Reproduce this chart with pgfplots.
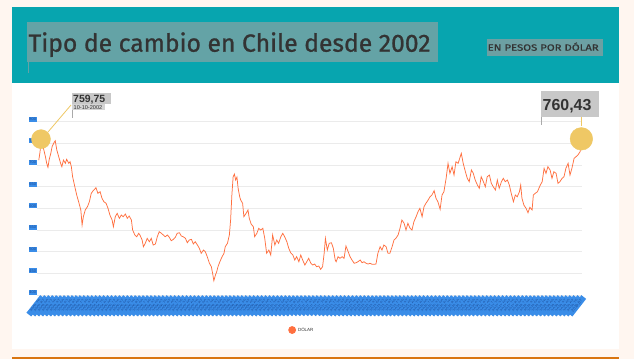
\documentclass[border=0pt]{standalone}
\usepackage{pgfplots}
\pgfplotsset{compat=1.18}
\usepackage{pgfplotstable}
\usepackage{fontspec}
\setmainfont{Liberation Sans}
\newfontfamily\titlefont[FakeBold=0.9]{Fira Sans}
\definecolor{creambg}{RGB}{255,246,240}
\definecolor{tealhead}{RGB}{7,165,175}
\definecolor{titlebox}{RGB}{100,163,166}
\definecolor{subbox}{RGB}{108,160,163}
\definecolor{titletext}{RGB}{51,51,51}
\definecolor{bottombar}{RGB}{217,117,17}
\definecolor{lineorange}{RGB}{255,112,64}
\definecolor{circyellow}{RGB}{239,200,101}
\definecolor{gridgray}{RGB}{235,235,235}
\definecolor{tickblue}{RGB}{58,141,232}
\definecolor{ticktext}{RGB}{28,78,154}
\definecolor{annobox}{RGB}{200,200,200}
\definecolor{datebox}{RGB}{212,212,212}
\definecolor{annogray}{RGB}{170,170,170}

\pgfplotstableread{
t v
2002.70 711.5
2002.74 730.7
2002.77 759.75
2002.86 734.6
2002.91 719.2
2002.95 703.9
2002.99 694.7
2003.03 713.2
2003.08 727.0
2003.12 742.2
2003.18 751.5
2003.22 756.1
2003.27 734.6
2003.33 719.2
2003.39 703.9
2003.43 696.1
2003.48 711.5
2003.54 703.9
2003.58 713.2
2003.65 703.9
2003.69 707.6
2003.73 696.1
2003.77 673.0
2003.84 649.9
2003.90 630.8
2003.96 615.3
2004.03 596.2
2004.07 561.5
2004.11 580.7
2004.17 596.2
2004.24 603.8
2004.30 615.3
2004.36 634.7
2004.42 640.7
2004.51 647.6
2004.57 634.7
2004.64 638.4
2004.70 623.2
2004.76 615.3
2004.83 611.6
2004.89 600.1
2004.95 584.6
2005.02 573.1
2005.06 557.6
2005.12 580.7
2005.18 588.5
2005.25 577.0
2005.31 584.6
2005.37 580.7
2005.44 586.9
2005.50 577.0
2005.56 582.3
2005.63 573.1
2005.67 550.0
2005.74 538.5
2005.80 534.5
2005.86 542.4
2005.90 538.5
2005.97 526.9
2006.01 511.5
2006.07 519.3
2006.13 530.8
2006.20 523.0
2006.26 530.8
2006.32 515.4
2006.39 517.7
2006.45 534.5
2006.51 546.1
2006.58 542.4
2006.64 538.5
2006.70 534.5
2006.77 538.5
2006.83 533.2
2006.89 525.3
2006.96 528.5
2007.02 533.2
2007.08 542.4
2007.15 543.8
2007.21 536.2
2007.27 534.5
2007.34 530.8
2007.40 520.7
2007.46 526.9
2007.53 528.5
2007.59 517.7
2007.65 523.0
2007.72 515.4
2007.78 507.8
2007.84 496.2
2007.91 503.8
2007.97 499.9
2008.03 488.4
2008.10 473.2
2008.16 465.3
2008.20 450.1
2008.24 433.0
2008.29 446.2
2008.33 453.8
2008.37 465.3
2008.43 476.8
2008.50 488.4
2008.56 496.2
2008.60 511.5
2008.67 519.3
2008.73 538.5
2008.77 573.1
2008.81 630.8
2008.85 673.0
2008.89 679.2
2008.93 665.4
2008.97 672.0
2009.01 645.0
2009.06 626.0
2009.09 619.2
2009.15 611.6
2009.19 580.7
2009.26 588.5
2009.32 596.2
2009.36 577.0
2009.42 563.8
2009.49 557.6
2009.53 534.5
2009.60 542.4
2009.66 553.9
2009.72 550.0
2009.79 553.9
2009.85 530.8
2009.91 496.2
2009.98 503.8
2010.04 492.3
2010.10 538.5
2010.17 515.4
2010.23 526.9
2010.29 519.3
2010.36 534.5
2010.42 542.4
2010.48 534.5
2010.55 523.0
2010.61 507.8
2010.67 497.6
2010.74 492.3
2010.80 480.8
2010.86 488.4
2010.93 476.8
2010.99 492.3
2011.05 480.8
2011.12 469.2
2011.18 476.8
2011.24 484.7
2011.31 473.2
2011.37 469.2
2011.43 471.5
2011.49 465.3
2011.56 466.9
2011.62 459.3
2011.68 465.3
2011.73 496.2
2011.77 530.8
2011.83 503.8
2011.89 519.3
2011.96 520.7
2012.02 507.8
2012.08 480.8
2012.11 476.8
2012.17 488.4
2012.23 484.7
2012.30 488.4
2012.36 484.7
2012.42 513.1
2012.49 499.9
2012.55 488.4
2012.61 480.8
2012.68 473.2
2012.74 474.5
2012.80 476.8
2012.87 480.8
2012.93 474.5
2012.99 476.8
2013.06 473.2
2013.12 471.5
2013.18 473.2
2013.25 470.8
2013.31 470.8
2013.37 471.5
2013.43 496.2
2013.50 511.5
2013.56 503.8
2013.62 515.4
2013.69 511.5
2013.75 496.2
2013.81 496.2
2013.88 511.5
2013.94 526.9
2014.00 530.8
2014.07 538.5
2014.13 553.9
2014.19 573.1
2014.26 565.5
2014.32 550.0
2014.38 565.5
2014.45 553.9
2014.51 550.0
2014.57 569.2
2014.64 580.7
2014.70 592.2
2014.76 600.1
2014.83 580.7
2014.89 603.8
2014.95 611.6
2015.02 619.2
2015.08 626.8
2015.14 630.8
2015.21 640.7
2015.27 623.2
2015.33 615.3
2015.40 597.8
2015.46 630.8
2015.52 638.4
2015.59 669.3
2015.65 703.9
2015.71 680.8
2015.78 696.1
2015.84 676.9
2015.90 707.6
2015.97 703.9
2016.03 717.8
2016.07 727.0
2016.13 703.9
2016.20 684.5
2016.26 669.3
2016.32 661.5
2016.39 688.5
2016.45 680.8
2016.51 665.4
2016.58 653.8
2016.64 646.2
2016.70 673.0
2016.77 661.5
2016.83 649.9
2016.89 673.0
2016.96 676.9
2017.02 657.8
2017.08 649.9
2017.15 642.3
2017.21 665.4
2017.27 646.2
2017.34 661.5
2017.40 669.3
2017.46 661.5
2017.53 665.4
2017.59 653.8
2017.65 634.7
2017.72 615.3
2017.78 630.8
2017.84 626.8
2017.91 638.4
2017.95 653.8
2017.99 623.2
2018.05 607.7
2018.12 600.1
2018.18 589.9
2018.24 602.4
2018.31 596.2
2018.35 630.8
2018.41 634.7
2018.48 638.4
2018.57 653.8
2018.63 661.5
2018.69 692.4
2018.75 680.8
2018.81 696.1
2018.88 688.5
2018.94 669.3
2019.00 684.5
2019.07 680.8
2019.13 657.8
2019.19 661.5
2019.26 669.3
2019.32 673.0
2019.38 692.4
2019.45 703.9
2019.51 676.9
2019.57 692.4
2019.64 715.5
2019.70 719.2
2019.76 723.1
2019.83 730.7
2019.87 760.43
}\dolar

\begin{document}
\begin{tikzpicture}
% ---------- background, header ----------
\begin{scope}[shift={(-37bp,295bp)}, x=1bp, y=-1bp]
 \fill[creambg] (0,0) rectangle (634,359);
 \fill[white] (12,83) rectangle (619,349);
 \fill[tealhead] (12,7) rectangle (619,83);
 \fill[bottombar] (12,356.5) rectangle (619,359);
 \fill[titlebox] (27.5,21.7) rectangle (438,61.7);
 \draw[titlebox, line width=1bp] (28.3,61.7) -- (28.3,72.7);
 \node[anchor=base west, inner sep=0, text=titletext] at (28.3,51.7)
   {\resizebox{402bp}{19.4bp}{\titlefont Tipo de cambio en Chile desde 2002}};
 \fill[subbox] (486.5,39.3) rectangle (602.5,55.7);
 \node[anchor=base west, inner sep=0, text=titletext] at (487.5,50.7)
   {\resizebox{111bp}{8.2bp}{\titlefont EN PESOS POR DÓLAR}};
\end{scope}
% ---------- chart ----------
\begin{axis}[
  at={(0,0)}, anchor=south west,
  scale only axis, width=545bp, height=173.3bp,
  xmin=2002.643, xmax=2019.89, ymin=400, ymax=800,
  ytick={400,450,...,800},
  ymajorgrids, grid style={color=gridgray, line width=0.8bp},
  axis line style={draw=none}, major tick length=0pt,
  xtick distance=0.125,
  /pgf/number format/assume math mode=true,
  yticklabel style={font=\fontsize{4}{4.5}\selectfont, fill=tickblue, text=ticktext,
     inner xsep=0.8bp, inner ysep=1.1bp, anchor=east, yshift=2.6bp},
  xticklabel style={font=\fontsize{4.2}{4.5}\selectfont, fill=tickblue, text=ticktext,
     rotate=52, anchor=east, inner xsep=3.6bp, inner ysep=1.3bp, yshift=-3bp,
     /pgf/number format/.cd, fixed, fixed zerofill, precision=2, use comma, 1000 sep={}},
  legend style={at={(0.486,-0.202)}, anchor=center, draw=none, fill=none,
     font=\fontsize{4.5}{5}\selectfont, text=titletext},
  legend image code/.code={\fill[lineorange] (0bp,0bp) circle (3.5bp);},
  clip=false,
]
\addplot[only marks, mark=*, color=circyellow, mark size=9.5bp, forget plot]
  coordinates {(2002.77,759.75)};
\addplot[only marks, mark=*, color=circyellow, mark size=11.3bp, forget plot]
  coordinates {(2019.87,760.43)};
\addplot[lineorange, line width=0.75bp] table[x=t, y=v]{\dolar};
\legend{DÓLAR}
\end{axis}
% ---------- annotations ----------
\begin{scope}[shift={(-37bp,295bp)}, x=1bp, y=-1bp]
 \draw[circyellow, line width=0.8bp] (71,105) -- (48,132);
 \draw[annogray, line width=1bp] (72.7,104) -- (72.7,118);
 \fill[annobox] (72.2,93.3) rectangle (110.5,104.3);
 \node[anchor=base west, inner sep=0, text=titletext, font=\bfseries\fontsize{10.5}{11}\selectfont] at (73,102.4) {759,75};
 \fill[datebox] (72.2,104.3) rectangle (104.5,110.3);
 \node[anchor=base west, inner sep=0, text=titletext, font=\fontsize{5.6}{6}\selectfont] at (73.5,109.2) {10-10-2002};
 \draw[circyellow, line width=1bp] (581,117) -- (581,126);
 \draw[annogray, line width=1bp] (541.7,117) -- (541.7,125);
 \fill[annobox] (541,91) rectangle (599,117);
 \node[anchor=base west, inner sep=0, text=titletext, font=\bfseries\fontsize{16}{16}\selectfont] at (542.5,110) {760,43};
\end{scope}
\end{tikzpicture}
\end{document}
